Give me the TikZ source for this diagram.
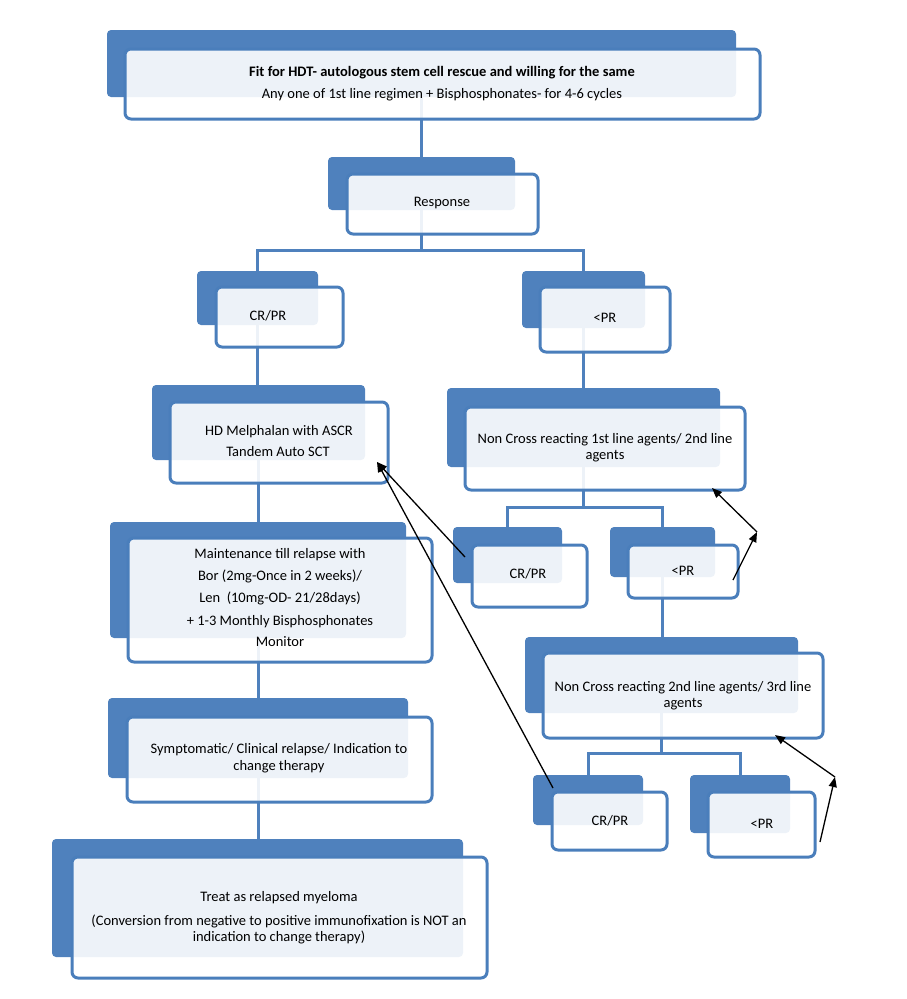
\documentclass[tikz,border=0pt]{standalone}
\usepackage{fontspec}
\setmainfont{Carlito}
\usetikzlibrary{arrows.meta}
\definecolor{myblue}{HTML}{4F81BD}
\definecolor{edgeblue}{HTML}{4A7EBB}
\pgfdeclarelayer{bg}
\pgfsetlayers{bg,main}
\tikzset{
  darkbox/.style={draw=none, fill=myblue, rounded corners=4pt, inner sep=0pt, outer sep=0pt},
  frontbox/.style={draw=edgeblue, line width=3pt, fill=white, fill opacity=0.9, rounded corners=6pt, inner sep=0pt, outer sep=0pt},
  conn/.style={draw=myblue, line width=3pt},
  fbarrow/.style={draw=black, line width=1.3pt, -{Triangle[length=10pt,width=8pt]}},
  txt/.style={font=\fontsize{14.5}{17}\selectfont, text=black, align=center, inner sep=0pt, text height=9.5pt, text depth=2.5pt}
}
% name, dark x1 y1 x2 y2, front x1 y1 x2 y2
\newcommand\mkbox[9]{%
  \node[darkbox, minimum width={(#4-#2)*1pt}, minimum height={(#5-#3)*1pt}] (d#1) at ({(#2+#4)/2},{(#3+#5)/2}) {};
  \node[frontbox, minimum width={(#8-#6)*1pt}, minimum height={(#9-#7)*1pt}] (f#1) at ({(#6+#8)/2},{(#7+#9)/2}) {};
}
\begin{document}
\begin{tikzpicture}[x=1pt,y=-1pt]
\useasboundingbox (0,0) rectangle (906,999);
% boxes
\mkbox{Top}{107}{30}{736}{97}{125}{49}{760}{119}
\mkbox{Resp}{328}{157}{515}{210}{347}{174}{538}{234}
\mkbox{CRa}{197}{271}{318}{325}{216}{287}{343}{347}
\mkbox{PRa}{522}{271}{645}{328}{540}{287}{670}{352}
\mkbox{HD}{152}{385}{365}{460}{170}{402}{388}{483}
\mkbox{Maint}{110}{522}{406}{638}{128}{538}{432}{662}
\mkbox{Sym}{108}{698}{408}{778}{127}{717}{432}{802}
\mkbox{Treat}{52}{839}{463}{957}{72}{857}{487}{978}
\mkbox{NCa}{447}{388}{720}{467}{465}{407}{745}{490}
\mkbox{CRb}{453}{527}{562}{583}{472}{545}{587}{607}
\mkbox{PRb}{610}{527}{715}{577}{628}{545}{738}{598}
\mkbox{NCb}{525}{637}{798}{713}{543}{653}{823}{738}
\mkbox{CRc}{533}{775}{643}{825}{552}{792}{667}{850}
\mkbox{PRc}{690}{775}{790}{833}{708}{792}{815}{857}
% junctions
\coordinate (j1) at (421.5,250);
\coordinate (j2) at (583.5,507);
\coordinate (j3) at (661.5,753);
% connectors
\begin{pgfonlayer}{bg}
\draw[conn] (dTop.center) -- (dResp.center);
\draw[conn] (dResp.center) -- (j1);
\draw[conn] (dCRa.center) |- (j1) -| (dPRa.center);
\draw[conn] (dCRa.center) -- (dCRa.center |- dHD.center);
\draw[conn] (dHD.center) -- (dHD.center |- dMaint.center);
\draw[conn] (dMaint.center) -- (dMaint.center |- dSym.center);
\draw[conn] (dSym.center) -- (dSym.center |- dTreat.center);
\draw[conn] (dPRa.center) -- (dPRa.center |- dNCa.center);
\draw[conn] (dNCa.center) -- (j2);
\draw[conn] (dCRb.center) |- (j2) -| (dPRb.center);
\draw[conn] (dPRb.center) -- (dPRb.center |- dNCb.center);
\draw[conn] (dNCb.center) -- (j3);
\draw[conn] (dCRc.center) |- (j3) -| (dPRc.center);
\end{pgfonlayer}
% texts
\node[txt] (tTopa) at (442,73) {\bfseries Fit for HDT- autologous stem cell rescue and willing for the same};
\node[txt] (tTopb) at (442,95) {Any one of 1st line regimen + Bisphosphonates- for 4-6 cycles};
\node[txt] (tResp) at (442,203) {Response};
\node[txt] (tCRa) at (268,317) {CR/PR};
\node[txt] (tPRa) at (605,319) {<PR};
\node[txt] (tHDa) at (279,432) {HD Melphalan with ASCR};
\node[txt] (tHDb) at (278,453) {Tandem Auto SCT};
\node[txt] (tMa) at (280,555) {Maintenance till relapse with};
\node[txt] (tMb) at (280,577) {Bor (2mg-Once in 2 weeks)/};
\node[txt] (tMc) at (280,599) {Len\ \ (10mg-OD- 21/28days)};
\node[txt] (tMd) at (280,622) {+ 1-3 Monthly Bisphosphonates};
\node[txt] (tMe) at (280,643) {Monitor};
\node[txt] (tSa) at (279,750) {Symptomatic/ Clinical relapse/ Indication to};
\node[txt] (tSb) at (279,767) {change therapy};
\node[txt] (tTa) at (279,898) {Treat as relapsed myeloma};
\node[txt] (tTb) at (279,922) {(Conversion from negative to positive immunofixation is NOT an};
\node[txt] (tTc) at (279,938) {indication to change therapy)};
\node[txt] (tNCaa) at (605,440) {Non Cross reacting 1st line agents/ 2nd line};
\node[txt] (tNCab) at (605,456) {agents};
\node[txt] (tCRb) at (528,575) {CR/PR};
\node[txt] (tPRb) at (683,572) {<PR};
\node[txt] (tNCba) at (683,688) {Non Cross reacting 2nd line agents/ 3rd line};
\node[txt] (tNCbb) at (683,704) {agents};
\node[txt] (tCRc) at (610,822) {CR/PR};
\node[txt] (tPRc) at (762,825) {<PR};
% feedback arrows
\coordinate (a1s) at (465,557);
\coordinate (a1e) at (377,462);
\coordinate (a2s) at (553,788);
\coordinate (a3s) at (733,580);
\coordinate (a3m) at (757,532);
\coordinate (a3e) at (712,488);
\coordinate (a4s) at (820,842);
\coordinate (a4m) at (835,777);
\coordinate (a4e) at (775,735);
\draw[fbarrow] (a1s) -- (a1e);
\draw[fbarrow] (a2s) -- (a1e);
\draw[fbarrow] (a3s) -- (a3m);
\draw[fbarrow] (a3m) -- (a3e);
\draw[fbarrow] (a4s) -- (a4m);
\draw[fbarrow] (a4m) -- (a4e);
\end{tikzpicture}
\end{document}
